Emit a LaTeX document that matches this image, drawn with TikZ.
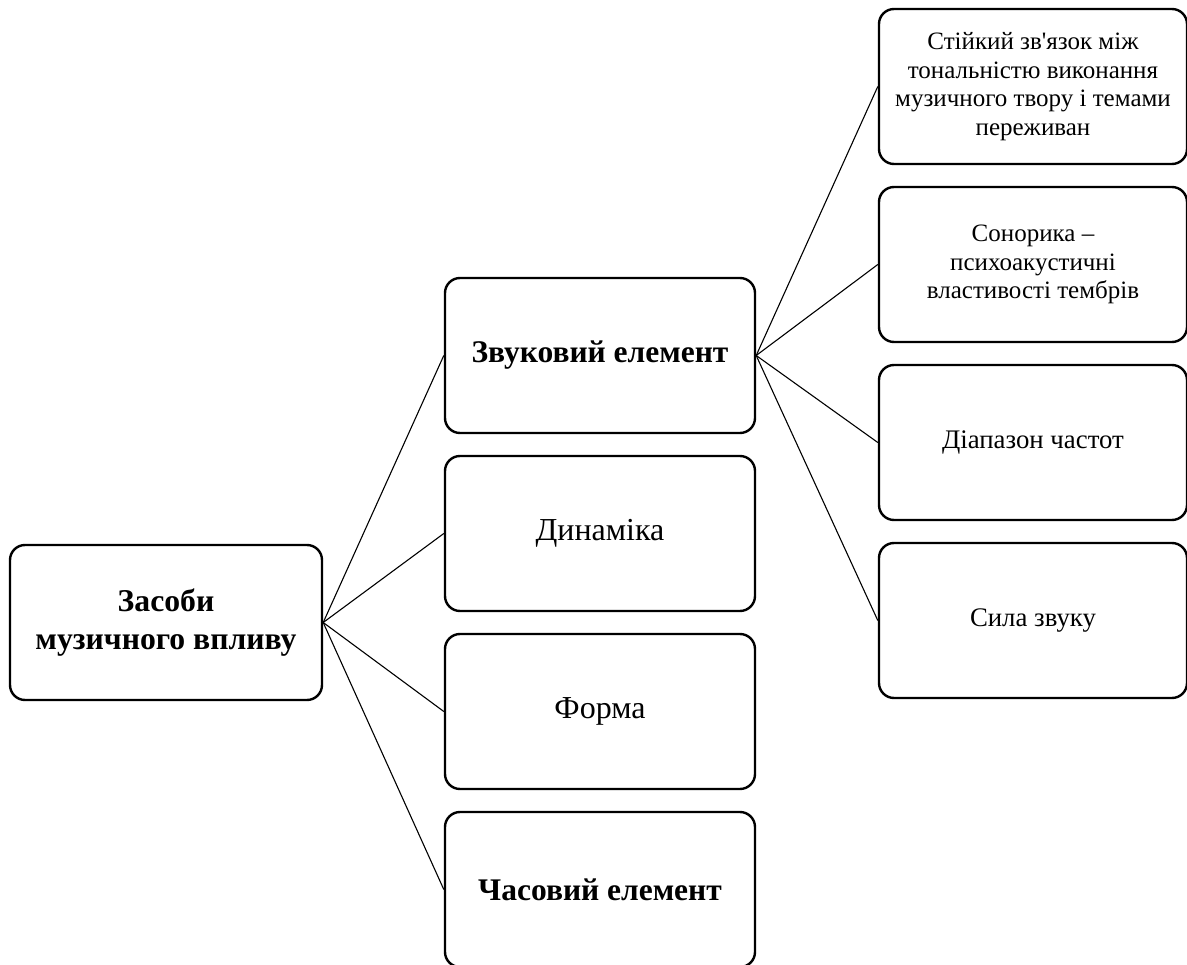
\documentclass[tikz,border=0pt]{standalone}
\usepackage{fontspec}
\setmainfont{Liberation Serif}
\usetikzlibrary{positioning}

\tikzset{
  box/.style={draw, line width=2.4pt, rounded corners=15pt, align=center,
    minimum width=310pt, minimum height=155pt, inner sep=4pt},
  link/.style={line width=1.1pt},
}

\begin{document}
\begin{tikzpicture}[x=1pt, y=-1pt]
  \def\xr{166}%
  \def\xm{600}%
  \def\xl{1033}%
  \def\dy{178}
  \useasboundingbox (0,0) rectangle (1187,965);

  %root
  \node[box, minimum width=312pt, font=\fontsize{31.7}{38}\selectfont\bfseries]
    (root) at (\xr,622.5) {Засоби\\музичного впливу};

  %middle column
  \node[box, font=\fontsize{31.5}{38}\selectfont\bfseries] (mid1) at (\xm,355.5) {Звуковий елемент};
  \node[box, font=\fontsize{32}{38}\selectfont] (mid2) at (\xm,355.5+\dy) {Динаміка};
  \node[box, font=\fontsize{32}{38}\selectfont] (mid3) at (\xm,355.5+2*\dy) {Форма};
  \node[box, font=\fontsize{31.5}{38}\selectfont\bfseries] (mid4) at (\xm,355.5+3*\dy) {Часовий елемент};

  %right column
  \foreach \txt/\fs [count=\i] in {
    {Стійкий зв\textquotesingle язок між\\тональністю виконання\\музичного твору і темами\\переживан}/25,
    {Сонорика --\\психоакустичні\\властивості тембрів}/25,
    {Діапазон частот}/26.8,
    {Сила звуку}/26.8}{
    \node[box, minimum width=308pt, font=\fontsize{\fs}{28.5}\selectfont]
      (leaf\i) at (\xl,86.5+\i*\dy-\dy) {\txt};
  }

  %links
  \foreach \i in {1,...,4}{
    \draw[link] (root.east) -- (mid\i.west);
    \draw[link] (mid1.east) -- (leaf\i.west);
  }
\end{tikzpicture}
\end{document}
